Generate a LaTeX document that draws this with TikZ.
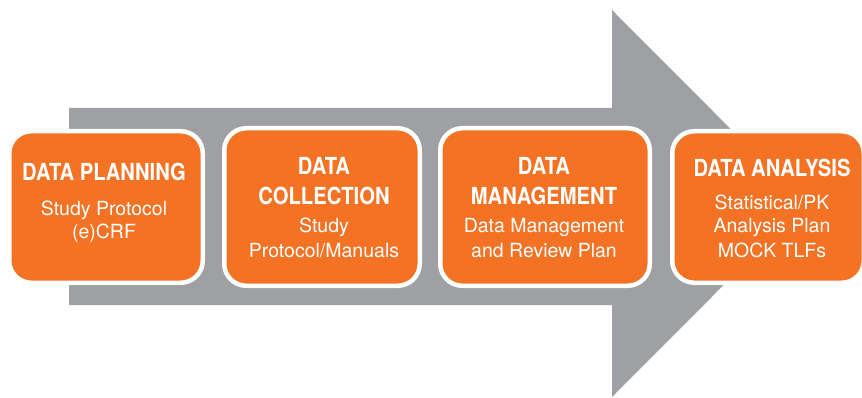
\documentclass[tikz,border=0pt]{standalone}
\usepackage{fontspec}
\setmainfont{TeX Gyre Heros}
\newfontfamily\titlefont{TeX Gyre Heros}[FakeStretch=0.86]
\definecolor{boxorange}{HTML}{F37224}
\definecolor{arrowgray}{HTML}{9FA0A4}
\tikzset{
  stagebox/.style={draw=white, line width=4.5pt, fill=boxorange, rounded corners=22pt, inner sep=0pt},
  titletext/.style={anchor=base, text=white, inner sep=0pt, font=\titlefont\bfseries\fontsize{23.5}{27}\selectfont},
  subtext/.style={anchor=base, text=white, inner sep=0pt, font=\fontsize{19.5}{23}\selectfont},
}
\begin{document}
\begin{tikzpicture}[x=1pt,y=-1pt]
\useasboundingbox (0,0) rectangle (862,398);
% big gray arrow
\fill[arrowgray] (69,108) -- (612,108) -- (612,10) -- (805,203.5) -- (612,397) -- (612,305) -- (69,305) -- cycle;
% boxes
\node[stagebox, minimum width=193.5pt, minimum height=151.5pt] (b1) at (106,207) {};
\node[stagebox, minimum width=195.5pt, minimum height=157.5pt] (b2) at (322,207) {};
\node[stagebox, minimum width=209.5pt, minimum height=157.5pt] (b3) at (545,207) {};
\node[stagebox, minimum width=191.5pt, minimum height=151.5pt] (b4) at (768,207) {};
% box 1
\node[titletext] (t1) at (104,181) {DATA PLANNING};
\node[subtext] (s1a) at (104,215) {Study Protocol};
\node[subtext] (s1b) at (104,238) {(e)CRF};
% box 2
\node[titletext] (t2a) at (324,175) {DATA};
\node[titletext] (t2b) at (324,205) {COLLECTION};
\node[subtext] (s2a) at (324,233) {Study};
\node[subtext] (s2b) at (324,258) {Protocol/Manuals};
% box 3
\node[titletext] (t3a) at (544,175) {DATA};
\node[titletext] (t3b) at (544,205) {MANAGEMENT};
\node[subtext] (s3a) at (544,233) {Data Management};
\node[subtext] (s3b) at (544,258) {and Review Plan};
% box 4
\node[titletext] (t4) at (772,177) {DATA ANALYSIS};
\node[subtext] (s4a) at (772,210) {Statistical/PK};
\node[subtext] (s4b) at (772,233) {Analysis Plan};
\node[subtext] (s4c) at (772,257) {MOCK TLFs};
\end{tikzpicture}
\end{document}
